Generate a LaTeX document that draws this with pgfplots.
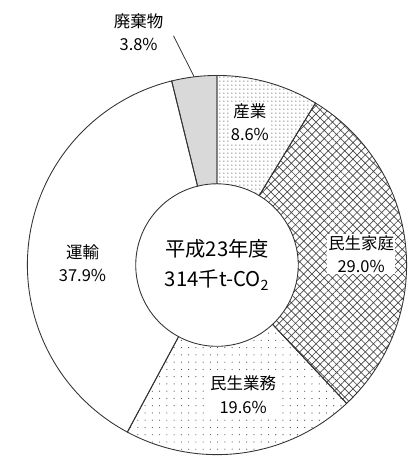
\documentclass[border=0pt]{standalone}
\usepackage{pgfplots}
\pgfplotsset{compat=1.18}
\usepackage{pgfplotstable}
\usepackage{fontspec}
\setmainfont{Noto Sans CJK JP}
\usetikzlibrary{patterns.meta,calc}

\definecolor{edge}{HTML}{333333}
\definecolor{patc}{HTML}{484848}
\definecolor{wastegray}{HTML}{D9D9D9}

\pgfplotstableread{
sector value
Industry 8.6
Household 29.0
Business 19.6
Transport 37.9
Waste 3.8
}\emis

\newcommand\slice[3]{%
  \path[#3] (axis cs:215,-274) ++(#1:196pt) arc[start angle=#1,end angle=#2,radius=196pt]
    -- ($(axis cs:215,-274)+(#2:84pt)$) arc[start angle=#2,end angle=#1,radius=84pt] -- cycle;}

\begin{document}
\begin{tikzpicture}
\pgfplotstablegetelem{0}{value}\of\emis \let\vA\pgfplotsretval
\pgfplotstablegetelem{1}{value}\of\emis \let\vB\pgfplotsretval
\pgfplotstablegetelem{2}{value}\of\emis \let\vC\pgfplotsretval
\pgfplotstablegetelem{3}{value}\of\emis \let\vD\pgfplotsretval
\pgfplotstablegetelem{4}{value}\of\emis \let\vE\pgfplotsretval
\pgfmathsetmacro\tot{\vA+\vB+\vC+\vD+\vE}
\pgfmathsetmacro\aA{90}
\pgfmathsetmacro\aB{90-360*\vA/\tot}
\pgfmathsetmacro\aC{\aB-360*\vB/\tot}
\pgfmathsetmacro\aD{\aC-360*\vC/\tot}
\pgfmathsetmacro\aE{\aD-360*\vD/\tot}
\pgfmathsetmacro\aF{-270}
\pgfmathsetmacro\mE{(\aE+\aF)/2}
\begin{axis}[scale only axis, width=413pt, height=471pt,
  xmin=0, xmax=413, ymin=-471, ymax=0, hide axis, clip=false]
\path (axis cs:0,0) rectangle (axis cs:413,-471);
% fills
\slice{\aA}{\aB}{fill=white}
\slice{\aA}{\aB}{pattern={Dots[distance=4pt,angle=0,radius=0.55pt]},pattern color=patc}
\slice{\aB}{\aC}{fill=white}
\slice{\aB}{\aC}{pattern={Hatch[distance=6pt,angle=45,line width=0.7pt]},pattern color=patc}
\slice{\aC}{\aD}{fill=white}
\slice{\aC}{\aD}{pattern={Dots[distance=7.5pt,angle=0,radius=0.6pt]},pattern color=patc}
\slice{\aD}{\aE}{fill=white}
\slice{\aE}{\aF}{fill=wastegray}
% outlines
\slice{\aA}{\aB}{draw=edge,line width=0.9pt}
\slice{\aB}{\aC}{draw=edge,line width=0.9pt}
\slice{\aC}{\aD}{draw=edge,line width=0.9pt}
\slice{\aD}{\aE}{draw=edge,line width=0.9pt}
\slice{\aE}{\aF}{draw=edge,line width=0.9pt}
% leader line for waste
\draw[edge,line width=0.8pt] ($(axis cs:215,-274)+(\mE:196pt)$) -- (axis cs:170,-37);
% labels
\tikzset{lab/.style={fill=white,inner sep=1.5pt,align=center,font=\fontsize{17}{24}\selectfont}}
\node[lab] at (axis cs:249,-126) {産業\\8.6\%};
\node[lab] at (axis cs:364,-263) {民生家庭\\29.0\%};
\node[lab] at (axis cs:242,-408) {民生業務\\19.6\%};
\node[lab] at (axis cs:76,-272) {運輸\\37.9\%};
\node[lab] at (axis cs:134,-33) {廃棄物\\3.8\%};
\node[align=center,font=\fontsize{21}{31}\selectfont] at (axis cs:215,-274) {平成23年度\\314千t-CO\textsubscript{2}};
\end{axis}
\end{tikzpicture}
\end{document}
